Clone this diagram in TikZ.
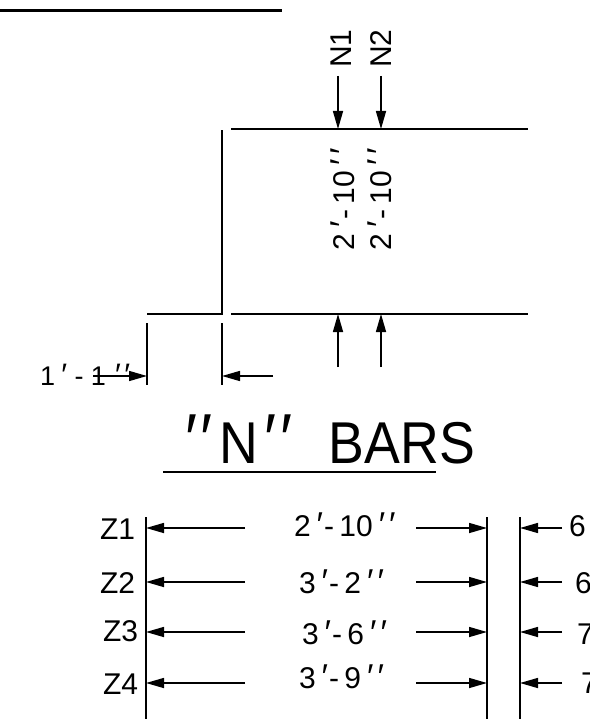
\documentclass[tikz,border=0pt]{standalone}
\usepackage{fontspec}
\usepackage{graphicx}
\setmainfont{Liberation Sans}
\newfontfamily\titlefont[FakeStretch=.91]{Liberation Sans}
\usetikzlibrary{arrows.meta}
\newcommand{\pr}{\raisebox{-.02em}{\scalebox{1.15}{′}}}
\newcommand{\dpr}{\pr\kern.13em\pr}
\newcommand{\ftin}[2]{#1\kern.2em\pr\kern.03em-\kern.18em#2\kern.2em\dpr}
\newcommand{\ftinw}[2]{#1\kern.24em\pr\kern.27em-\kern.27em#2\kern.34em\dpr}
\newcommand{\tpr}{\scalebox{1.2}{′}}
\tikzset{
  x=1pt,y=-1pt,
  lbl/.style={inner sep=0pt,outer sep=0pt,font=\fontsize{30}{30}\selectfont,anchor=base west,text=black},
  vlbl/.style={inner sep=0pt,outer sep=0pt,font=\fontsize{30}{30}\selectfont,anchor=base west,rotate=90,text=black},
  bar/.style={line width=2pt,black},
  ext/.style={line width=1.5pt,black},
  dim/.style={line width=1.5pt,black,-{Triangle[length=18pt,width=10pt]}},
}
\begin{document}
\begin{tikzpicture}
\useasboundingbox (0,0) rectangle (589,719);
\fill[white] (0,0) rectangle (589,719);
% heavy top line
\coordinate (t0) at (0,11); \coordinate (t1) at (282,11);
\draw[line width=3pt] (t0) -- (t1);
% bar outline
\coordinate (topL) at (231,129); \coordinate (topR) at (528,129);
\coordinate (botL) at (231,314); \coordinate (botR) at (528,314);
\coordinate (stepL) at (147,314); \coordinate (stepC) at (222,314);
\coordinate (stepT) at (222,130);
\draw[bar] (topL) -- (topR);
\draw[bar] (botL) -- (botR);
\draw[bar] (stepL) -- (stepC) -- (stepT);
% N arrows
\coordinate (a1s) at (338,76); \coordinate (a1e) at (338,129);
\coordinate (a2s) at (381,76); \coordinate (a2e) at (381,129);
\coordinate (b1s) at (338,367); \coordinate (b1e) at (338,314);
\coordinate (b2s) at (381,367); \coordinate (b2e) at (381,314);
\draw[dim] (a1s) -- (a1e);
\draw[dim] (a2s) -- (a2e);
\draw[dim] (b1s) -- (b1e);
\draw[dim] (b2s) -- (b2e);
\node[vlbl] (n1) at (351,68) {N1};
\node[vlbl] (n2) at (391,68) {N2};
\node[vlbl] (l1) at (354,250) {\ftin{2}{10}};
\node[vlbl] (l2) at (391,250) {\ftin{2}{10}};
% 1'-1"
\coordinate (e1t) at (147,323); \coordinate (e1b) at (147,385);
\coordinate (e2t) at (222,323); \coordinate (e2b) at (222,385);
\draw[ext] (e1t) -- (e1b);
\draw[ext] (e2t) -- (e2b);
\node[lbl,font=\fontsize{27}{27}\selectfont] (l3) at (40,385) {\ftinw{1}{1}};
\coordinate (d1s) at (93,376); \coordinate (d1e) at (147,376);
\coordinate (d2s) at (273,376); \coordinate (d2e) at (222,376);
\draw[dim] (d1s) -- (d1e);
\draw[dim] (d2s) -- (d2e);
% title
\node[inner sep=0pt,outer sep=0pt,anchor=base west,font=\titlefont\fontsize{59}{59}\selectfont] (title) at (185,463) {\tpr\kern.06em\tpr\kern.12em N\kern.1em\tpr\kern.06em\tpr\kern.62em BARS};
\coordinate (u0) at (163,472); \coordinate (u1) at (436,472);
\draw[bar] (u0) -- (u1);
% table verticals
\coordinate (v1t) at (146,517); \coordinate (v1b) at (146,719);
\coordinate (v2t) at (487,517); \coordinate (v2b) at (487,719);
\coordinate (v3t) at (520,517); \coordinate (v3b) at (520,719);
\draw[ext] (v1t) -- (v1b);
\draw[ext] (v2t) -- (v2b);
\draw[ext] (v3t) -- (v3b);
\foreach \i/\y in {1/528,2/582,3/632,4/683}{
  \coordinate (p\i a) at (245,\y); \coordinate (p\i b) at (146,\y);
  \coordinate (q\i a) at (416,\y); \coordinate (q\i b) at (487,\y);
  \coordinate (r\i a) at (562,\y); \coordinate (r\i b) at (520,\y);
  \draw[dim] (p\i a) -- (p\i b);
  \draw[dim] (q\i a) -- (q\i b);
  \draw[dim] (r\i a) -- (r\i b);
}
\node[lbl] (z1) at (100,539) {Z1};
\node[lbl] (z2) at (100,593) {Z2};
\node[lbl] (z3) at (103,641) {Z3};
\node[lbl] (z4) at (103,694) {Z4};
\node[lbl] (s1) at (294,536) {\ftin{2}{10}};
\node[lbl] (s2) at (299,593) {\ftin{3}{2}};
\node[lbl] (s3) at (302,644) {\ftin{3}{6}};
\node[lbl] (s4) at (299,688) {\ftin{3}{9}};
\node[lbl] (w1) at (569,536) {6};
\node[lbl] (w2) at (575,593) {6};
\node[lbl] (w3) at (577,644) {7};
\node[lbl] (w4) at (581,693) {7};
\end{tikzpicture}
\end{document}
